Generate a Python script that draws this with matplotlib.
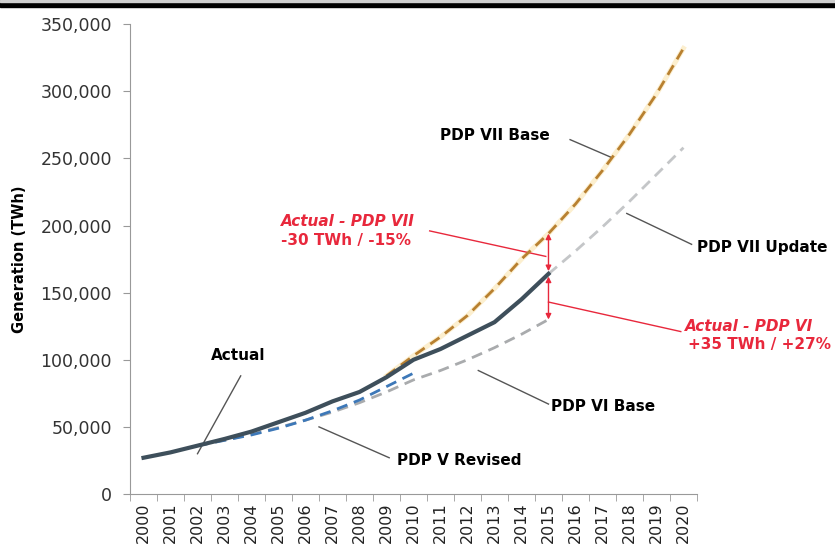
import matplotlib.pyplot as plt
from matplotlib.patches import Rectangle

plt.rcParams["font.family"] = ["DejaVu Sans"]

years = [str(y) for y in range(2000, 2021)]

actual_x = list(range(0, 16))
actual = [27000, 31000, 36000, 41000, 46500, 53500, 60500, 69000,
          76000, 87000, 100000, 108000, 118000, 128000, 145000, 164000]

pdp5_x = list(range(2, 11))
pdp5 = [36000, 40000, 44000, 49000, 55000, 62000, 70000, 80000, 90000]

pdp6_x = list(range(2, 16))
pdp6 = [36000, 40000, 44500, 49500, 55000, 61000, 68000, 76000, 85000,
        92000, 100000, 109000, 119000, 130000]

pdp7_x = list(range(9, 21))
pdp7 = [88000, 103000, 117000, 133000, 153000, 175000, 194000,
        216000, 241000, 268000, 298000, 332000]

pdp7u_x = list(range(15, 21))
pdp7u = [164000, 181000, 199000, 218000, 238000, 258000]

fig = plt.figure(figsize=(8.35, 5.45), dpi=100)
ax = fig.add_axes([0.1557, 0.0936, 0.679, 0.862])

ax.plot(pdp7_x, pdp7, color="#fcefcf", lw=3.5, zorder=2)
ax.plot(pdp7_x, pdp7, color="#b88030", lw=2, ls=(0, (4, 2.5)), zorder=3)
ax.plot(pdp7u_x, pdp7u, color="#c4c6c8", lw=2, ls=(0, (4, 2.5)), zorder=3)
ax.plot(pdp6_x, pdp6, color="#a9abad", lw=2, ls=(0, (4, 2.5)), zorder=3)
ax.plot(pdp5_x, pdp5, color="#3d78b8", lw=2, ls=(0, (4, 2.5)), zorder=4)
ax.plot(actual_x, actual, color="#3e4f5b", lw=3, zorder=5)

ax.set_xlim(-0.5, 20.5)
ax.set_ylim(0, 350000)
ax.set_xticks(range(len(years)))
ax.set_xticklabels(years, rotation=90, fontsize=11.5, color="#222222")
ax.set_xticks([i - 0.5 for i in range(len(years) + 1)], minor=True)
ax.tick_params(axis="x", which="major", length=0, pad=6)
ax.tick_params(axis="x", which="minor", length=5, color="#999999")
ax.set_yticks(range(0, 350001, 50000))
ax.set_yticklabels([f"{v:,}" for v in range(0, 350001, 50000)],
                   fontsize=12.5, color="#333333")
ax.tick_params(axis="y", length=5, color="#999999", pad=8)
for side in ("top", "right"):
    ax.spines[side].set_visible(False)
for side in ("left", "bottom"):
    ax.spines[side].set_color("#999999")
ax.set_ylabel("Generation (TWh)", fontsize=10.5, fontweight="bold", labelpad=10)

# leader lines and labels
def label(text, xy_text, line_start, line_end):
    ax.text(*xy_text, text, fontsize=11, fontweight="bold", color="black",
            ha="left", va="center")
    ax.plot([line_start[0], line_end[0]], [line_start[1], line_end[1]],
            color="#555555", lw=1)

label("PDP VII Base", (11.0, 267000), (15.8, 264000), (17.3, 251000))
label("PDP VII Update", (20.5, 184000), (17.9, 209000), (20.3, 186000))
label("Actual", (2.5, 103000), (3.6, 88000), (2.0, 30000))
label("PDP V Revised", (9.4, 25000), (6.5, 50000), (9.1, 27000))
label("PDP VI Base", (15.1, 65000), (12.4, 92000), (15.0, 67000))

red = "#e8283c"
ax.text(5.1, 203000, "Actual - PDP VII", fontsize=11, fontweight="bold",
        style="italic", color=red, va="center")
ax.text(5.1, 189000, "-30 TWh / -15%", fontsize=11, fontweight="bold",
        color=red, va="center")
ax.plot([10.6, 14.9], [196000, 177000], color=red, lw=1)

ax.text(20.05, 125000, "Actual - PDP VI", fontsize=11, fontweight="bold",
        style="italic", color=red, va="center")
ax.text(20.15, 111000, "+35 TWh / +27%", fontsize=11, fontweight="bold",
        color=red, va="center")
ax.plot([15.0, 19.9], [143000, 121000], color=red, lw=1)

arrow = dict(arrowstyle="<|-|>", color=red, lw=1, mutation_scale=8,
             shrinkA=0, shrinkB=0)
ax.annotate("", xy=(15, pdp7[6]), xytext=(15, actual[-1] + 2000),
            arrowprops=arrow)
ax.annotate("", xy=(15, actual[-1] - 2000), xytext=(15, pdp6[-1]),
            arrowprops=arrow)

# cropped slide header band
fig.patches.append(Rectangle((0, 1 - 7 / 545), 1, 7 / 545,
                             transform=fig.transFigure, color="black"))
fig.patches.append(Rectangle((0, 1 - 2 / 545), 1, 2 / 545,
                             transform=fig.transFigure, color="#cfcfcf"))

fig.savefig("out.png", dpi=100)
